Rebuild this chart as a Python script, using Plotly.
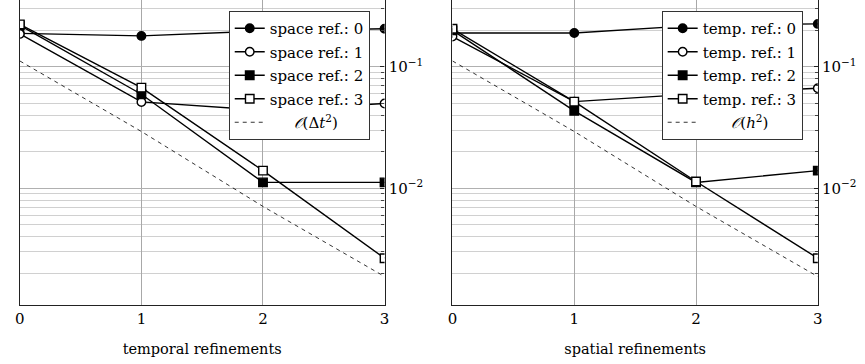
import plotly.graph_objects as go

refinements = [0, 1, 2, 3]

# left: error vs temporal refinements, per spatial refinement level
space_ref_0 = [0.189, 0.180, 0.198, 0.206]
space_ref_1 = [0.187, 0.0515, 0.044, 0.050]
space_ref_2 = [0.220, 0.0596, 0.0112, 0.0112]
space_ref_3 = [0.224, 0.0676, 0.0140, 0.00266]
order_dt2 = [0.112, 0.0294, 0.0071, 0.00188]

# right: error vs spatial refinements, per temporal refinement level
temp_ref_0 = [0.190, 0.190, 0.220, 0.226]
temp_ref_1 = [0.178, 0.0518, 0.060, 0.0668]
temp_ref_2 = [0.200, 0.0435, 0.0112, 0.0140]
temp_ref_3 = [0.206, 0.0518, 0.0114, 0.00266]
order_h2 = [0.112, 0.0294, 0.0071, 0.00188]

left_labels = ["space ref.: 0", "space ref.: 1", "space ref.: 2", "space ref.: 3"]
right_labels = ["temp. ref.: 0", "temp. ref.: 1", "temp. ref.: 2", "temp. ref.: 3"]
y_tickvals = [0.01, 0.1]
y_ticktext = ["10<sup>−2</sup>", "10<sup>−1</sup>"]

FONT = "DejaVu Serif"
styles = [
    ("circle", "black"),
    ("circle", "white"),
    ("square", "black"),
    ("square", "white"),
]

fig = go.Figure()

def add_panel(series, labels, order, order_label, xa, ya, legend, tag):
    for i, (vals, lab, (sym, fill)) in enumerate(zip(series, labels, styles)):
        fig.add_trace(go.Scatter(
            x=refinements, y=vals, name=lab, mode="lines+markers",
            line=dict(color="black", width=1.4),
            marker=dict(symbol=sym, size=8.5, color=fill,
                        line=dict(color="black", width=1.4)),
            xaxis=xa, yaxis=ya, legend=legend, legendgroup=f"{tag}{i}",
        ))
    fig.add_trace(go.Scatter(
        x=refinements, y=order, name=order_label, mode="lines",
        line=dict(color="black", width=0.8, dash="4px,4px"),
        xaxis=xa, yaxis=ya, legend=legend, legendgroup=f"{tag}o",
    ))

add_panel([space_ref_0, space_ref_1, space_ref_2, space_ref_3], left_labels,
          order_dt2, "     <i>𝒪</i>(Δ<i>t</i><sup>2</sup>)", "x", "y", "legend", "L")
add_panel([temp_ref_0, temp_ref_1, temp_ref_2, temp_ref_3], right_labels,
          order_h2, "      <i>𝒪</i>(<i>h</i><sup>2</sup>)", "x2", "y2", "legend2", "R")

ylow, yhigh = -2.96, -0.449
minor_vals = [m * 10 ** e for e in (-3, -2, -1) for m in range(2, 10)]

def xaxis(domain, anchor, title):
    return dict(
        domain=domain, anchor=anchor, range=[0, 3],
        tickvals=refinements, ticks="", showgrid=True,
        gridcolor="#a8a8a8", gridwidth=1,
        showline=True, linecolor="#222", linewidth=1.3, mirror=False,
        zeroline=False,
        tickfont=dict(family=FONT, size=15, color="black"),
        title=dict(text=title, font=dict(family=FONT, size=14.5, color="black"), standoff=16),
    )

def yaxis(anchor):
    return dict(
        type="log", domain=[0.1621, 1.0], anchor=anchor, side="right",
        range=[ylow, yhigh], tickvals=y_tickvals, ticktext=y_ticktext,
        ticks="inside", ticklen=4, tickcolor="#222",
        showgrid=True, gridcolor="#b0b0b0", gridwidth=1.2,
        minor=dict(tickvals=minor_vals, showgrid=True, gridcolor="#d0d0d0",
                   gridwidth=1, ticks="inside", ticklen=3, tickcolor="#444"),
        showline=True, linecolor="#222", linewidth=1.3, mirror=True,
        zeroline=False,
        tickfont=dict(family=FONT, size=15, color="black"),
    )

legend_common = dict(
    bgcolor="white", bordercolor="#333", borderwidth=1,
    font=dict(family=FONT, size=15, color="black"),
    xanchor="right", yanchor="top", y=1 - 11 / 364,
    tracegroupgap=1, itemwidth=30,
)

fig.update_layout(
    width=865, height=364,
    margin=dict(l=0, r=0, t=0, b=0),
    paper_bgcolor="white", plot_bgcolor="white",
    font=dict(family=FONT, color="black"),
    showlegend=True,
    xaxis=xaxis([15 / 865, 384 / 865], "y", "temporal refinements"),
    yaxis=yaxis("x"),
    xaxis2=xaxis([452.7 / 865, 822.3 / 865], "y2", "spatial refinements"),
    yaxis2=yaxis("x2"),
    legend=dict(x=369 / 865, **legend_common),
    legend2=dict(x=807 / 865, **legend_common),
)

fig.write_html("out.html")
